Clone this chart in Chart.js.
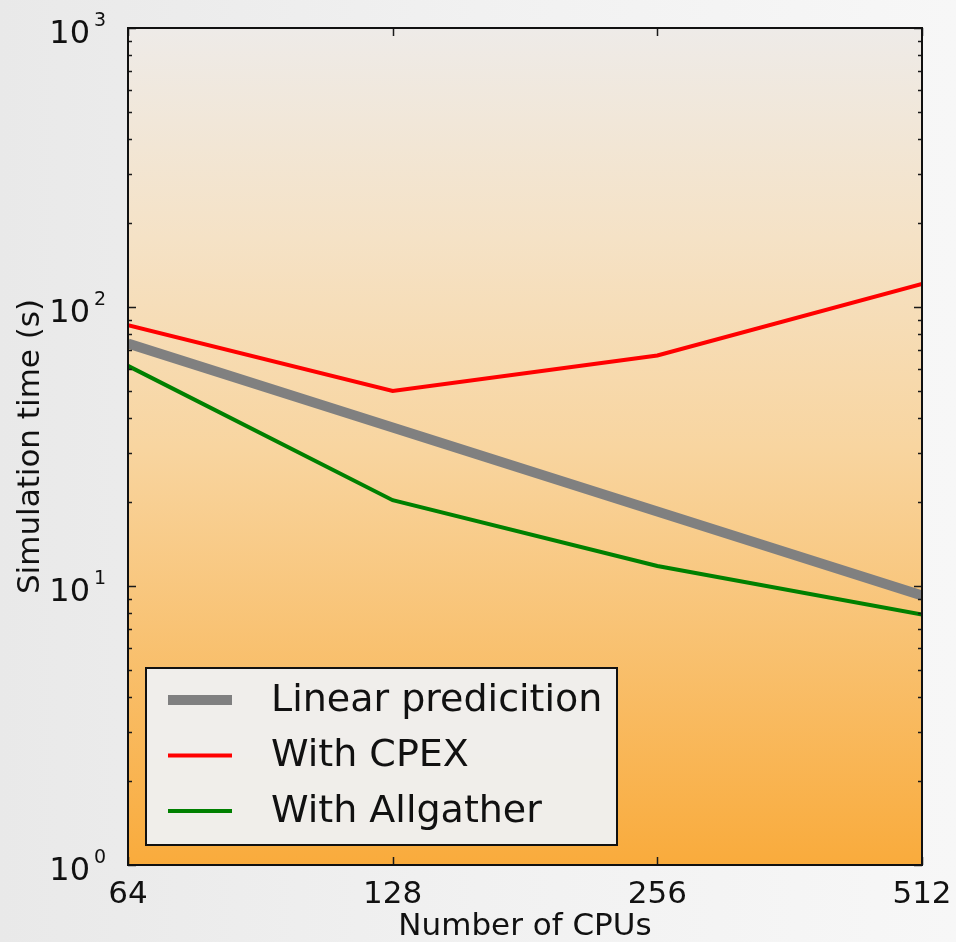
<!DOCTYPE html>
<html>
<head>
<meta charset="utf-8">
<script src="https://cdn.jsdelivr.net/npm/chart.js@4.4.1/dist/chart.umd.min.js"></script>
<style>
  html, body { margin: 0; padding: 0; }
  body {
    width: 956px; height: 942px; overflow: hidden;
    background: linear-gradient(to right, #e9e9e9 0%, #f1f1f1 50%, #f7f7f7 100%);
  }
  #wrap { position: relative; width: 956px; height: 942px; }
</style>
</head>
<body>
<div id="wrap"><canvas id="myChart" width="956" height="942"></canvas></div>
<script>
// data
var cpus = [64, 128, 256, 512];
var linearPrediction = [74, 37, 18.5, 9.25];
var withCPEX = [86, 50, 67, 121];
var withAllgather = [61.5, 20.3, 11.8, 7.9];
var seriesLabels = ['Linear predicition', 'With CPEX', 'With Allgather'];
var yMajor = [1, 10, 100, 1000];

var FONT = '"DejaVu Sans", sans-serif';

// gradient background inside the plot area
var bgPlugin = {
  id: 'plotBg',
  beforeDatasetsDraw: function(chart) {
    var a = chart.chartArea, c = chart.ctx;
    var g = c.createLinearGradient(0, a.top, 0, a.bottom);
    g.addColorStop(0, '#eeebe8');
    g.addColorStop(0.25, '#f5e2c6');
    g.addColorStop(0.5, '#f8d5a0');
    g.addColorStop(1, '#f9ab3c');
    c.save();
    c.fillStyle = g;
    c.fillRect(a.left, a.top, a.right - a.left, a.bottom - a.top);
    c.restore();
  }
};

// inside ticks on all four sides, frame, and 10^n labels
var framePlugin = {
  id: 'frame',
  afterDatasetsDraw: function(chart) {
    var a = chart.chartArea, c = chart.ctx;
    var xs = chart.scales.x, ys = chart.scales.y;
    c.save();
    c.strokeStyle = '#1a1a1a';
    c.lineWidth = 1.5;
    for (var d = 1; d <= 1000; d *= 10) {
      for (var m = 1; m <= 9; m++) {
        var v = d * m;
        if (v > 1000) break;
        var py = Math.round(ys.getPixelForValue(v)) + 0.5;
        var len = (m === 1) ? 8 : 4;
        c.beginPath();
        c.moveTo(a.left, py); c.lineTo(a.left + len, py);
        c.moveTo(a.right, py); c.lineTo(a.right - len, py);
        c.stroke();
      }
    }
    cpus.forEach(function(v) {
      var px = Math.round(xs.getPixelForValue(v)) + 0.5;
      c.beginPath();
      c.moveTo(px, a.bottom); c.lineTo(px, a.bottom - 8);
      c.moveTo(px, a.top); c.lineTo(px, a.top + 8);
      c.stroke();
    });
    c.lineWidth = 2;
    c.strokeStyle = '#111';
    c.strokeRect(a.left, a.top, a.right - a.left, a.bottom - a.top);

    // y tick labels as 10 with a raised exponent
    c.fillStyle = '#111';
    yMajor.forEach(function(v) {
      var py = ys.getPixelForValue(v);
      var exp = String(Math.round(Math.log10(v)));
      c.font = '32px ' + FONT;
      c.textAlign = 'right';
      c.textBaseline = 'alphabetic';
      c.fillText('10', a.left - 38, py + 15);
      c.font = '19px ' + FONT;
      c.textAlign = 'left';
      c.fillText(exp, a.left - 34, py - 2);
    });
    c.restore();
  }
};

// legend box in the lower left corner of the plot
var legendPlugin = {
  id: 'boxLegend',
  afterDraw: function(chart) {
    var c = chart.ctx, a = chart.chartArea;
    var x0 = a.left + 18, y0 = a.bottom - 197, w = 471, h = 177;
    c.save();
    c.fillStyle = 'rgba(240,240,240,0.97)';
    c.fillRect(x0, y0, w, h);
    c.lineWidth = 2;
    c.strokeStyle = '#111';
    c.strokeRect(x0, y0, w, h);
    c.font = '38px ' + FONT;
    c.textBaseline = 'middle';
    chart.data.datasets.forEach(function(ds, i) {
      var yy = y0 + 32 + i * 55.5;
      c.beginPath();
      c.strokeStyle = ds.borderColor;
      c.lineWidth = ds.borderWidth;
      c.moveTo(x0 + 22, yy); c.lineTo(x0 + 86, yy);
      c.stroke();
      c.fillStyle = '#111';
      c.fillText(ds.label, x0 + 125, yy + 1);
    });
    c.restore();
  }
};

var ctx = document.getElementById('myChart').getContext('2d');

var myChart = new Chart(ctx, {
  type: 'line',
  data: {
    labels: cpus,
    datasets: [
      { label: seriesLabels[0], data: cpus.map(function(x, i) { return { x: x, y: linearPrediction[i] }; }),
        borderColor: '#808080', borderWidth: 10, pointRadius: 0, tension: 0 },
      { label: seriesLabels[1], data: cpus.map(function(x, i) { return { x: x, y: withCPEX[i] }; }),
        borderColor: '#ff0000', borderWidth: 4, pointRadius: 0, tension: 0 },
      { label: seriesLabels[2], data: cpus.map(function(x, i) { return { x: x, y: withAllgather[i] }; }),
        borderColor: '#008000', borderWidth: 4, pointRadius: 0, tension: 0 }
    ]
  },
  options: {
    responsive: false,
    animation: false,
    layout: { padding: { top: 28, right: 34, left: 0, bottom: 0 } },
    plugins: { legend: { display: false }, tooltip: { enabled: false } },
    scales: {
      x: {
        type: 'logarithmic',
        min: 64, max: 512,
        afterBuildTicks: function(s) { s.ticks = cpus.map(function(v) { return { value: v }; }); },
        afterFit: function(s) { s.height = 77; s.paddingLeft = 0; s.paddingRight = 0; },
        grid: { display: false, drawTicks: false },
        border: { display: false },
        ticks: {
          color: '#111', padding: 11, maxRotation: 0, autoSkip: false,
          font: { family: FONT, size: 31 },
          callback: function(v) { return String(v); }
        },
        title: {
          display: true, text: 'Number of CPUs', color: '#111',
          font: { family: FONT, size: 31, lineHeight: 1.0 }, padding: { top: 0, bottom: 0 }
        }
      },
      y: {
        type: 'logarithmic',
        min: 1, max: 1000,
        afterBuildTicks: function(s) { s.ticks = yMajor.map(function(v) { return { value: v }; }); },
        afterFit: function(s) { s.width = 128; s.paddingTop = 0; s.paddingBottom = 0; },
        grid: { display: false, drawTicks: false },
        border: { display: false },
        ticks: { display: false },
        title: {
          display: true, text: 'Simulation time (s)', color: '#111',
          font: { family: FONT, size: 31 }, padding: { top: 12, bottom: 4 }
        }
      }
    }
  },
  plugins: [bgPlugin, framePlugin, legendPlugin]
});
</script>
</body>
</html>
